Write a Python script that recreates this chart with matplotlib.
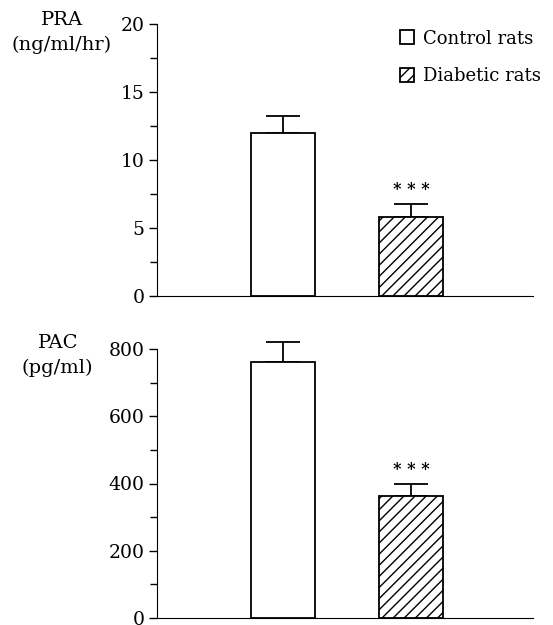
import numpy as np
import matplotlib
matplotlib.use("Agg")
import matplotlib.pyplot as plt
from matplotlib.ticker import MultipleLocator

plt.rcParams['font.family'] = ['DejaVu Serif']
plt.rcParams['hatch.linewidth'] = 1.0

groups = ['Control rats', 'Diabetic rats']
pra_mean = [12.0, 5.8]
pra_sem = [1.2, 1.0]
pac_mean = [760, 362]
pac_sem = [62, 36]
stars = ['', '* * *']

fig = plt.figure(figsize=(5.53, 6.25), dpi=100)
ax1 = fig.add_axes([0.284, 0.5264, 0.68, 0.4352])
ax2 = fig.add_axes([0.284, 0.0112, 0.68, 0.4304])

x = np.arange(len(groups))
hatches = ['', '///']


def panel(ax, mean, sem, ymax, major, minor, star_off):
    bars = []
    for i in range(len(groups)):
        b = ax.bar(x[i], mean[i], width=0.5, color='white', edgecolor='black',
                   linewidth=1.3, hatch=hatches[i], label=groups[i], zorder=2)
        bars.append(b)
        eb = ax.errorbar(x[i], mean[i], yerr=[[0], [sem[i]]], fmt='none', ecolor='black',
                         elinewidth=1.3, capsize=12, capthick=1.3, zorder=1)
        for art in eb.lines[1] + eb.lines[2]:
            art.set_clip_on(False)
        if stars[i]:
            ax.text(x[i], mean[i] + sem[i] + star_off, stars[i], ha='center',
                    va='bottom', fontsize=11.5, fontweight='bold')
    ax.set_xlim(-0.984, 1.953)
    ax.set_ylim(0, ymax)
    ax.yaxis.set_major_locator(MultipleLocator(major))
    ax.yaxis.set_minor_locator(MultipleLocator(minor))
    ax.set_xticks([])
    for s in ['top', 'right']:
        ax.spines[s].set_visible(False)
    ax.tick_params(axis='y', which='major', direction='out', length=6, width=1.0,
                   labelsize=13.5, pad=3)
    ax.tick_params(axis='y', which='minor', direction='out', length=5, width=1.0)
    return bars


bars = panel(ax1, pra_mean, pra_sem, 20, 5, 2.5, 0.4)
fig.text(62 / 553, 1 - 20 / 625, 'PRA', ha='center', va='center', fontsize=14)
fig.text(62 / 553, 1 - 45 / 625, '(ng/ml/hr)', ha='center', va='center', fontsize=14)

panel(ax2, pac_mean, pac_sem, 800, 200, 100, 18)
fig.text(58 / 553, 1 - 343 / 625, 'PAC', ha='center', va='center', fontsize=14)
fig.text(57 / 553, 1 - 368 / 625, '(pg/ml)', ha='center', va='center', fontsize=14)

ax1.legend(handles=[b[0] for b in bars], labels=groups, loc='upper right',
           bbox_to_anchor=(1.04, 1.006), frameon=False, fontsize=13,
           handlelength=0.8, handleheight=0.8, handletextpad=0.5,
           labelspacing=1.1, borderaxespad=0)

fig.savefig('out.png', dpi=100)
